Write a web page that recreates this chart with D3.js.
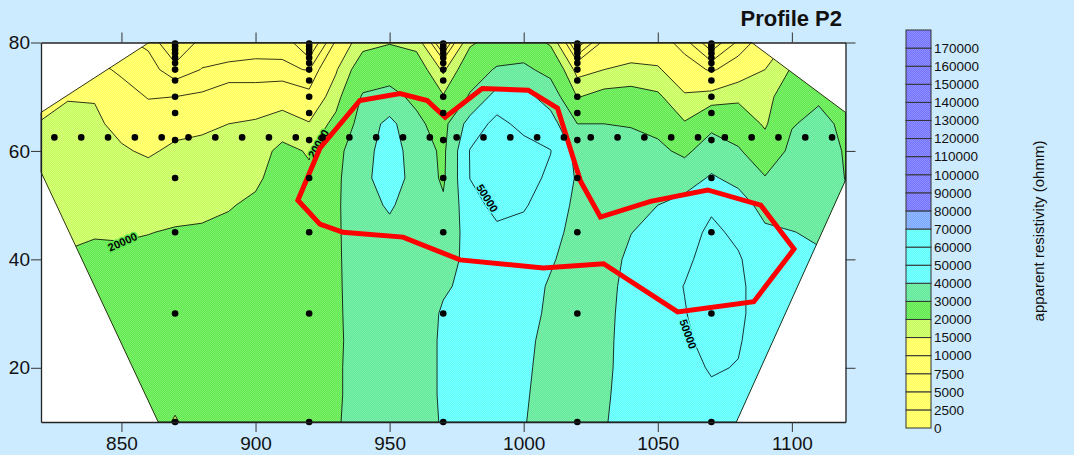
<!DOCTYPE html>
<html>
<head>
<meta charset="utf-8">
<script src="https://cdn.jsdelivr.net/npm/d3@7"></script>
<style>
  html, body { margin: 0; padding: 0; background: #CCEBFF; }
  svg { display: block; font-family: "Liberation Sans", Arial, sans-serif; }
</style>
</head>
<body>
<div id="chart"></div>
<script>
// grid nodes of the gridded pseudo-section
const xs = [820, 830, 840, 850, 860, 870, 880, 890, 900, 910, 920, 930, 940, 950, 960, 970,
            980, 990, 1000, 1010, 1020, 1030, 1040, 1050, 1060, 1070, 1080, 1090, 1100, 1110, 1120];
const ys = [80, 75, 70, 65, 60, 55, 50, 45, 40, 35, 30, 25, 20, 15, 10];

// apparent resistivity in thousands of ohm m, one row per entry of ys
const rho = [
  [9, 8, 8, 8, 7, 2, 6, 7, 7.2, 7, 2, 10.5, 18, 19.5, 18, 3, 19, 23, 24, 19, 3, 11, 12, 12, 8.5, 3, 8, 12, 16, 20, 22],
  [11, 11, 11, 9.4, 8.6, 6, 7.6, 7.7, 7.7, 7.8, 7.4, 14.5, 24, 27, 24, 14, 25, 31, 32, 27, 13, 15, 16, 15.5, 12, 9.5, 12, 15, 20.5, 24, 25],
  [13, 14.8, 14.8, 11.5, 9.8, 10, 10.5, 12.5, 12.5, 13, 11, 17.5, 31, 32, 28.5, 20.5, 31, 44, 43, 36, 19.7, 22, 22.5, 21, 15.5, 16.5, 18.5, 17.5, 25, 29, 27],
  [15.3, 16, 15.6, 14, 12, 13.8, 14.3, 15, 15.5, 17, 15.3, 22, 34, 43, 31.5, 27, 44, 53, 47, 44, 30, 30, 29.5, 27.5, 20.5, 27.5, 25, 19, 29.5, 32, 28.5],
  [17, 17, 17, 15.4, 14.5, 15.7, 16, 16.5, 17.5, 21.5, 19.5, 27, 37, 44, 36, 28, 50.5, 56, 54, 50.3, 37, 34, 33, 32, 28, 35, 31, 24, 32, 33, 29.5],
  [18, 18, 18, 17, 16.5, 17.3, 17.5, 18, 19.2, 22, 21, 28, 38, 44, 37, 28.5, 50.2, 56, 54, 48, 39, 35, 35, 36, 36, 41, 37.5, 30.5, 34, 35, 29.8],
  [18.5, 18.8, 19, 18.5, 18.3, 18.8, 19, 19.7, 20.8, 23, 22.5, 28.5, 37, 41, 36, 31.5, 46, 53, 51, 45, 38, 35, 37.5, 40, 43, 48.5, 44, 37, 36.5, 37, 31],
  [19, 19.5, 19.8, 19.6, 19.9, 20.3, 20.5, 21, 22, 23.5, 23.5, 28.7, 35.5, 38, 35, 35, 43, 48, 47, 43, 37, 35.5, 39.8, 43, 46, 52, 48, 41.5, 40.2, 39, 33],
  [19.5, 20.3, 20.6, 20.8, 21, 21.5, 21.8, 22, 23, 24, 24.5, 28.8, 34.5, 36, 35, 37, 42, 45, 45, 41, 36, 36, 42, 45, 48, 54, 51, 44, 43, 41, 35],
  [20.2, 21, 21.5, 21.5, 22, 22.5, 22.5, 22.8, 23.5, 24.5, 25, 28.8, 34, 35, 35, 39, 42, 44, 44, 39, 35, 37, 43, 45.5, 50.3, 55, 52, 45, 44, 42, 36],
  [20.5, 21.5, 22, 22, 22.5, 23, 23, 23, 24, 25, 25.5, 28.8, 33.5, 34.5, 35, 41, 43, 44, 43, 38.5, 34.5, 37.5, 43.5, 46, 49.5, 55, 52, 45, 44, 42, 36],
  [21, 22, 22.5, 22.5, 23, 23, 23, 23, 24, 25, 25.5, 28.8, 33, 34, 35, 41.5, 43, 43.5, 42, 37.5, 34, 38, 43.5, 45.5, 48, 54, 51, 44, 43, 42, 36],
  [21, 22, 23, 23, 23, 22.5, 23, 23, 24, 25, 25.5, 29, 33, 34, 35, 41.5, 43, 43.5, 41.5, 37, 34, 38.5, 43, 45, 46.5, 51, 49.5, 43, 42, 42, 36],
  [21, 22, 23, 23, 23, 21.5, 23, 23, 24, 25, 25.5, 29, 33, 34, 35, 41.5, 43, 43, 41, 36.5, 34, 39, 43, 44.5, 45.5, 48, 47, 42, 41, 42, 36],
  [21, 22, 23, 23, 23, 19.5, 23, 23, 24, 25, 25.5, 29.3, 33, 34, 35, 41, 43, 43, 40.5, 36, 34, 39.5, 43, 44, 45, 46, 45, 41, 40, 42, 36]
];

// contour / colour scale levels (ohm m)
const levels = [0, 2500, 5000, 7500, 10000, 15000, 20000, 30000, 40000, 50000, 60000, 70000,
                80000, 90000, 100000, 110000, 120000, 130000, 140000, 150000, 160000, 170000];

// outline of the data coverage (blanking polygon)
const hull = [[860.3, 80], [1085, 80], [1120, 67.1], [1120, 54.6], [1079.3, 10], [863.7, 10], [820, 56.1], [820, 67.1]];

// red outline of the anomaly
const anomaly = [[915.8, 50.9], [924, 46.5], [932.6, 45], [955, 44.1], [976.3, 39.9], [1007.3, 38.4],
                 [1029.8, 39.2], [1057.4, 30.3], [1085.8, 32.2], [1100.8, 41.9], [1088.4, 50], [1068.6, 52.8],
                 [1047.3, 50.7], [1028.6, 47.8], [1021.2, 54.4], [1012.6, 67.9], [1001.7, 71.2], [984.5, 71.5],
                 [970.7, 66.2], [964, 69.3], [953.9, 70.6], [938.9, 69.3], [924, 60.5]];

// measurement points
const boreX = [870, 920, 970, 1020, 1070];
const boreDepths = [10, 30, 45, 55, 62, 67, 70, 73, 75, 76.2, 77.2, 78, 78.7, 79.3, 79.8];
const rowX = [825, 835, 845, 855, 865, 875, 885, 895, 905, 915, 925, 935, 945, 955, 965,
              975, 985, 995, 1005, 1015, 1025, 1035, 1045, 1055, 1065, 1075, 1085, 1095, 1105, 1115];
const rowDepth = 62.5;

const xTicks = [850, 900, 950, 1000, 1050, 1100];
const yTicks = [20, 40, 60, 80];

// contour labels
const contourLabels = [
  { value: 20000, x: 850.4, y: 43.2, angle: -24 },
  { value: 20000, x: 923.5, y: 61.3, angle: -60 },
  { value: 50000, x: 986.4, y: 51.3, angle: 58 },
  { value: 50000, x: 1061.3, y: 26.2, angle: 70 }
];

const W = 1074, H = 455;

// fills, slightly dithered like the original
const palette = [
  { min: 80000, a: "#7272ff", b: "#9090ff" },
  { min: 70000, a: "#76a6ff", b: "#96bcff" },
  { min: 40000, a: "#5cfcfc", b: "#7effff" },
  { min: 30000, a: "#5ee896", b: "#80f0b0" },
  { min: 20000, a: "#5ee84c", b: "#80f070" },
  { min: 15000, a: "#c4fa58", b: "#d8ff80" },
  { min: 0,     a: "#ffff58", b: "#ffff80" }
];
const bandIndex = v => palette.findIndex(p => v >= p.min);
const bandFill = v => `url(#fill${bandIndex(v)})`;
const bandFlat = v => palette[bandIndex(v)].a;

const svg = d3.select("#chart").append("svg")
    .attr("width", W)
    .attr("height", H);

const defs = svg.append("defs");
palette.forEach((p, i) => {
    const pat = defs.append("pattern")
        .attr("id", "fill" + i)
        .attr("patternUnits", "userSpaceOnUse")
        .attr("width", 2).attr("height", 2);
    pat.append("rect").attr("width", 2).attr("height", 2).attr("fill", p.a);
    pat.append("rect").attr("width", 1).attr("height", 1).attr("fill", p.b);
    pat.append("rect").attr("x", 1).attr("y", 1).attr("width", 1).attr("height", 1).attr("fill", p.b);
});

const x = d3.scaleLinear().domain([820, 1120]).range([41, 845.5]);
const y = d3.scaleLinear().domain([10, 80]).range([422, 42.5]);

// grid coordinates of d3.contours -> data coordinates
const gx = d3.scaleLinear().domain([0.5, xs.length - 0.5]).range([xs[0], xs[xs.length - 1]]);
const gy = d3.scaleLinear().domain([0.5, ys.length - 0.5]).range([ys[0], ys[ys.length - 1]]);
const path = d3.geoPath(d3.geoTransform({
    point(u, v) { this.stream.point(x(gx(u)), y(gy(v))); }
}));

const contours = d3.contours()
    .size([xs.length, ys.length])
    .thresholds(levels.map(v => v / 1000))(rho.flat());

defs.append("clipPath").attr("id", "hullClip")
    .append("path")
    .attr("d", d3.line().x(d => x(d[0])).y(d => y(d[1])).curve(d3.curveLinearClosed)(hull));

// plot background
svg.append("rect")
    .attr("x", x(820)).attr("y", y(80))
    .attr("width", x(1120) - x(820)).attr("height", y(10) - y(80))
    .attr("fill", "#fff");

const map = svg.append("g").attr("clip-path", "url(#hullClip)");

map.selectAll("path.band")
    .data(contours)
    .enter().append("path")
    .attr("class", "band")
    .attr("d", path)
    .attr("fill", d => bandFill(d.value * 1000));

map.selectAll("path.iso")
    .data(contours.filter(d => d.value > 0))
    .enter().append("path")
    .attr("class", "iso")
    .attr("d", path)
    .attr("fill", "none")
    .attr("stroke", "#000")
    .attr("stroke-width", 0.8);

// hull outline
svg.append("path")
    .attr("d", d3.line().x(d => x(d[0])).y(d => y(d[1])).curve(d3.curveLinearClosed)(hull))
    .attr("fill", "none")
    .attr("stroke", "#000")
    .attr("stroke-width", 0.8);

// contour labels
svg.append("g").selectAll("text")
    .data(contourLabels)
    .enter().append("text")
    .attr("transform", d => `translate(${x(d.x)},${y(d.y)}) rotate(${d.angle})`)
    .attr("text-anchor", "middle")
    .attr("dy", "0.35em")
    .attr("font-size", 11)
    .attr("font-weight", "bold")
    .attr("fill", "#000")
    .attr("stroke", d => bandFlat(d.value))
    .attr("stroke-width", 3)
    .attr("paint-order", "stroke")
    .text(d => d.value);

// red anomaly outline
svg.append("path")
    .attr("d", d3.line().x(d => x(d[0])).y(d => y(d[1])).curve(d3.curveLinearClosed)(anomaly))
    .attr("fill", "none")
    .attr("stroke", "#ff0000")
    .attr("stroke-width", 5)
    .attr("stroke-linejoin", "miter");

// measurement points
const pts = boreX.flatMap(bx => boreDepths.map(d => [bx, d]))
    .concat(rowX.map(rx => [rx, rowDepth]));
svg.append("g").selectAll("circle")
    .data(pts)
    .enter().append("circle")
    .attr("cx", d => x(d[0]))
    .attr("cy", d => y(d[1]))
    .attr("r", 3.3)
    .attr("fill", "#000");

// axes on all four sides
function styleAxis(g) {
    g.selectAll(".domain").attr("stroke", "#222").attr("stroke-width", 1.3);
    g.selectAll(".tick line").attr("stroke", "#333");
    g.selectAll(".tick text").attr("fill", "#111")
        .attr("font-size", 19)
        .attr("font-family", "Liberation Sans, Arial, sans-serif");
}
const fmt = d3.format("d");
svg.append("g").attr("transform", `translate(0,${y(10)})`)
    .call(d3.axisBottom(x).tickValues(xTicks).tickFormat(fmt).tickSize(10).tickSizeOuter(0).tickPadding(5))
    .call(styleAxis);
svg.append("g").attr("transform", `translate(0,${y(80)})`)
    .call(d3.axisTop(x).tickValues(xTicks).tickSize(10).tickSizeOuter(0).tickFormat(""))
    .call(styleAxis);
svg.append("g").attr("transform", `translate(${x(820)},0)`)
    .call(d3.axisLeft(y).tickValues(yTicks).tickFormat(fmt).tickSize(10).tickSizeOuter(0).tickPadding(1))
    .call(styleAxis);
svg.append("g").attr("transform", `translate(${x(1120)},0)`)
    .call(d3.axisRight(y).tickValues(yTicks).tickSize(10).tickSizeOuter(0).tickFormat(""))
    .call(styleAxis);

// title
svg.append("text")
    .attr("x", 842).attr("y", 26)
    .attr("text-anchor", "end")
    .attr("font-size", 22)
    .attr("font-weight", "bold")
    .attr("fill", "#111")
    .text("Profile P2");

// colour bar
const cb = d3.scaleLinear().domain([0, levels.length]).range([428, 30]);
const bar = svg.append("g");
bar.selectAll("rect")
    .data(levels)
    .enter().append("rect")
    .attr("x", 906)
    .attr("y", (d, i) => cb(i + 1))
    .attr("width", 25)
    .attr("height", (d, i) => cb(i) - cb(i + 1))
    .attr("fill", d => bandFill(d))
    .attr("stroke", "#333")
    .attr("stroke-width", 1);
bar.selectAll("text")
    .data(levels)
    .enter().append("text")
    .attr("x", 934)
    .attr("y", (d, i) => cb(i))
    .attr("dy", "0.36em")
    .attr("font-size", 13.5)
    .attr("fill", "#111")
    .text(d => d);

svg.append("text")
    .attr("transform", "translate(1044,231) rotate(-90)")
    .attr("text-anchor", "middle")
    .attr("font-size", 15)
    .attr("fill", "#111")
    .text("apparent resistivity (ohmm)");
</script>
</body>
</html>
